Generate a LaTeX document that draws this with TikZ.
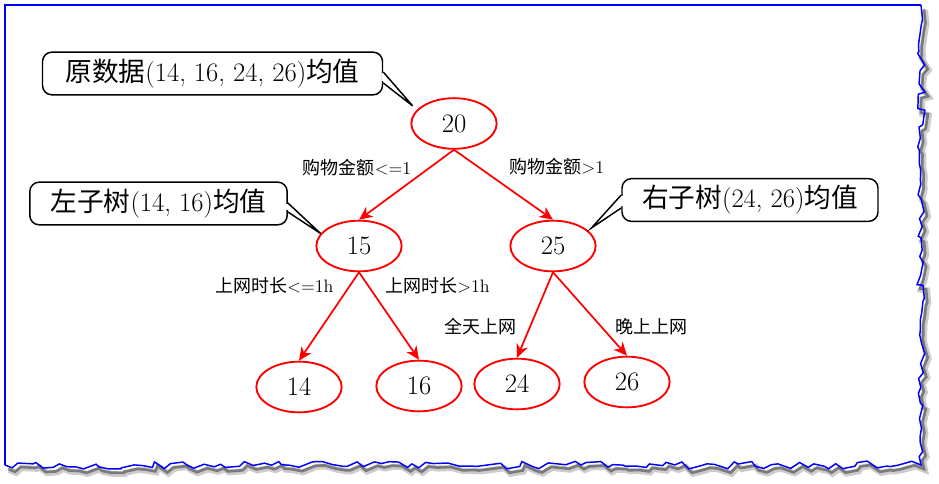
\documentclass[tikz,border=0pt]{standalone}
\usepackage{fontspec}
\newfontfamily\cjk{Noto Sans CJK SC}
\usetikzlibrary{arrows.meta, shapes.geometric, calc, decorations.pathmorphing}
\definecolor{frameblue}{HTML}{0000FF}
\definecolor{treered}{HTML}{FF0000}
\newcommand{\zh}[1]{{\cjk #1}}
\tikzset{
	tnode/.style={ellipse, draw=treered, line width=1.4pt, fill=white,
		minimum width=64pt, minimum height=38pt, inner sep=0pt,
		font=\fontsize{20}{22}\selectfont},
	tarr/.style={-{Stealth[length=10pt, width=9pt, inset=3pt]}, line width=1.3pt, draw=treered},
	elabel/.style={font=\fontsize{13.5}{15}\selectfont, inner sep=0pt},
	cbox/.style={draw=black, line width=1.1pt, rounded corners=7pt, fill=white,
		minimum height=32pt, inner xsep=6pt, font=\fontsize{20}{22}\selectfont},
	cptr/.style={draw=black, line width=1.1pt},
	jagged/.style={decorate, decoration={random steps, segment length=6pt, amplitude=3pt}}
}

\begin{document}
\begin{tikzpicture}[x=0.75pt, y=-0.75pt]
	\useasboundingbox (0,0) rectangle (939,484);
	\fill[white] (0,0) rectangle (939,484);
	% torn frame with shadow
	\pgfmathsetseed{27}
	\draw[jagged, black, line width=4.5pt, opacity=.2, shift={(4,5)}] (5,465) -- (921,465) -- (921,5);
	\pgfmathsetseed{27}
	\draw[jagged, black, line width=2pt, opacity=.4, shift={(3,4)}] (5,465) -- (921,465) -- (921,5);
	\pgfmathsetseed{27}
	\draw[jagged, frameblue, line width=1.1pt] (5,465) -- (921,465) -- (921,5);
	\draw[frameblue, line width=1.1pt] (5,465) -- (5,5) -- (921,5);

	% tree
	\node[tnode] (n20) at (454,123.5) {20};
	\node[tnode] (n15) at (359,246) {15};
	\node[tnode] (n25) at (553,246) {25};
	\node[tnode] (n14) at (299,387) {14};
	\node[tnode] (n16) at (419,386) {16};
	\node[tnode] (n24) at (517,384) {24};
	\node[tnode] (n26) at (627,382) {26};

	\draw[tarr] (n20.south) -- (n15.north);
	\draw[tarr] (n20.south) -- (n25.north);
	\draw[tarr] (n15.south) -- (n14.north);
	\draw[tarr] (n15.south) -- (n16.north);
	\draw[tarr] (n25.south) -- (n24.north);
	\draw[tarr] (n25.south) -- (n26.north);

	\node[elabel] (l1) at (357,167.5) {\zh{购物金额}<=1};
	\node[elabel] (l2) at (557,167) {\zh{购物金额}>1};
	\node[elabel] (l3) at (274.5,286) {\zh{上网时长}<=1h};
	\node[elabel] (l4) at (437.5,286) {\zh{上网时长}>1h};
	\node[elabel] (l5) at (480,326.5) {\zh{全天上网}};
	\node[elabel] (l6) at (651,326.5) {\zh{晚上上网}};

	% callouts
	\node[cbox, minimum width=255pt] (c20) at (212.5,73.5) {\zh{原数据}(14, 16, 24, 26)\zh{均值}};
	\fill[white] ($(c20.east)+(-1.5,0)$) rectangle ($(c20.east)+(1.5,8)$);
	\draw[cptr] ($(c20.east)+(0,-1.5)$) -- ($(n20.160)+(-4,-4)$) -- ($(c20.east)+(0,9.5)$);

	\node[cbox, minimum width=193pt] (c15) at (158.5,203.5) {\zh{左子树}(14, 16)\zh{均值}};
	\fill[white] ($(c15.east)+(-1.5,1)$) rectangle ($(c15.east)+(1.5,7)$);
	\draw[cptr] ($(c15.east)+(0,-0.5)$) -- (n15.162) -- ($(c15.east)+(0,8.5)$);

	\node[cbox, minimum width=192pt] (c25) at (750,200) {\zh{右子树}(24, 26)\zh{均值}};
	\fill[white] ($(c25.west)+(-1.5,-3.5)$) rectangle ($(c25.west)+(1.5,6.5)$);
	\draw[cptr] ($(c25.west)+(0,-5)$) -- ($(n25.25)+(4,-2)$) -- ($(c25.west)+(0,8)$);
\end{tikzpicture}
\end{document}
